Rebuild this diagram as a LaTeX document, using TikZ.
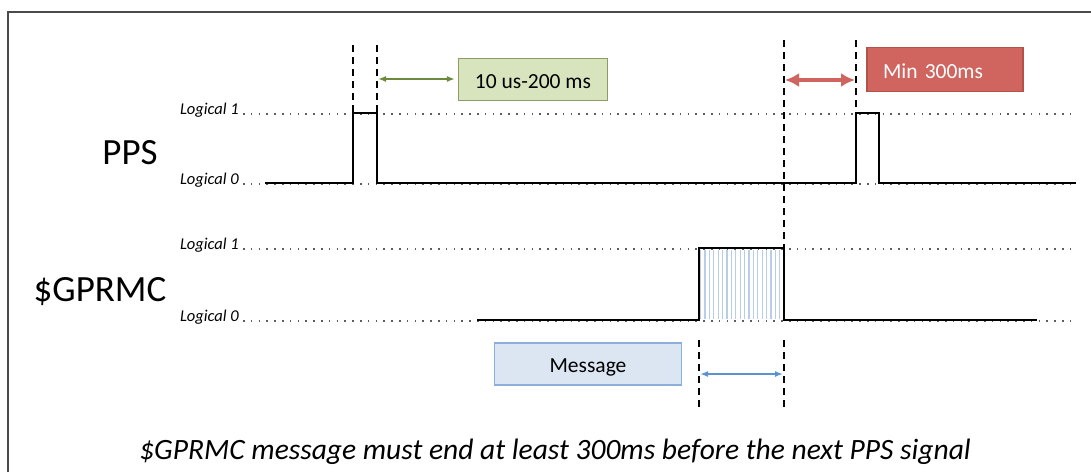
\documentclass[tikz,border=0pt]{standalone}
\usepackage{fontspec}
\setmainfont{Carlito}
\usetikzlibrary{arrows.meta,positioning,calc}
\usepackage{xcolor}

\definecolor{framegray}{HTML}{4A4A4A}
\definecolor{dotgray}{HTML}{5E5E5E}
\definecolor{greenfill}{HTML}{D8E4BD}
\definecolor{greenline}{HTML}{8C9C62}
\definecolor{greenarrow}{HTML}{6B8A3F}
\definecolor{redfill}{HTML}{D0655F}
\definecolor{redline}{HTML}{B5504B}
\definecolor{bluefill}{HTML}{DCE6F2}
\definecolor{blueline}{HTML}{8DB0DA}
\definecolor{bluearrow}{HTML}{5B93CF}
\definecolor{hatchblue}{HTML}{B9CDE6}

\tikzset{
  signal/.style={line width=1.8pt,black},
  level/.style={dotgray,line width=1.5pt,dash pattern=on 1.5pt off 6.3pt},
  marker/.style={black,line width=1.5pt,dash pattern=on 7pt off 5pt},
  lvltext/.style={font=\fontsize{16.5}{16}\selectfont\itshape,anchor=base east,inner sep=0pt},
  sigtext/.style={font=\fontsize{37}{40}\selectfont,inner sep=0pt},
  notebox/.style={font=\fontsize{21.5}{24}\selectfont,line width=1.2pt,inner sep=0pt,
    text height=17pt,text depth=0pt},
}

\begin{document}
\begin{tikzpicture}[x=1pt,y=-1pt]
  \useasboundingbox (0,0) rectangle (1091,472);
  % frame
  \draw[framegray,line width=2pt] (8,472) -- (8,12) -- (1091,12);

  % signal names
  \node[sigtext] (pps) at (130,153) {PPS};
  \node[sigtext] (gprmc) at (100,292) {\$GPRMC};

  % level labels
  \node[lvltext] (ppshi) at (239,114) {Logical 1};
  \node[lvltext] (ppslo) at (239,184) {Logical 0};
  \node[lvltext] (gphi) at (239,249) {Logical 1};
  \node[lvltext] (gplo) at (239,321) {Logical 0};
  \draw[level] ([xshift=4pt]ppshi.base east) -- (1076,114);
  \draw[level] ([xshift=4pt]ppslo.base east) -- (1076,184);
  \draw[level] ([xshift=4pt]gphi.base east) -- (1076,249);
  \draw[level] ([xshift=4pt]gplo.base east) -- (1076,321);

  % hatched message
  \foreach \x in {700.5,704.9,...,782} {
    \draw[hatchblue,line width=1.2pt] (\x,250) -- (\x,319);
  }

  % signals
  \draw[signal] (265,183) -- (353,183) -- (353,113) -- (377,113) -- (377,183)
    -- (856,183) -- (856,113) -- (879,113) -- (879,183) -- (1076,183);
  \draw[signal] (477,320) -- (699,320) -- (699,248) -- (784,248) -- (784,320) -- (1037,320);

  % markers
  \draw[marker] (353,45) -- (353,113);
  \draw[marker] (377,45) -- (377,113);
  \draw[marker] (784,40) -- (784,248);
  \draw[marker] (856,40) -- (856,113);
  \draw[marker] (699,340) -- (699,408);
  \draw[marker] (784,340) -- (784,408);

  % notes
  \node[notebox,draw=greenline,fill=greenfill,minimum width=149,minimum height=42]
    (width) at (533,79.5) {10 us-200 ms};
  \node[notebox,draw=redline,fill=redfill,minimum width=156,minimum height=44,
    text=white,align=left,text width=124] (gap) at (945,69.5) {Min 300ms};
  \node[notebox,draw=blueline,fill=bluefill,minimum width=187,minimum height=42]
    (msg) at (588,364) {Message};

  \coordinate (wa) at (378,79);
  \coordinate (ga) at (785,80);
  \coordinate (gb) at (855,80);
  \coordinate (ma) at (700,374);
  \coordinate (mb) at (783,374);
  \draw[greenarrow,line width=1.6pt,{Latex[length=8pt,width=6pt]}-{Latex[length=8pt,width=6pt]}]
    (wa) -- ([xshift=-3pt]width.west |- wa);
  \draw[redfill,line width=4pt,{Latex[length=14pt,width=14pt]}-{Latex[length=14pt,width=14pt]}]
    (ga) -- (gb);
  \draw[bluearrow,line width=1.8pt,{Latex[length=8pt,width=6pt]}-{Latex[length=8pt,width=6pt]}]
    (ma) -- (mb);

  % caption
  \node[font=\fontsize{29.5}{32}\selectfont\itshape] (caption) at (555,452)
    {\$GPRMC message must end at least 300ms before the next PPS signal};
\end{tikzpicture}
\end{document}
